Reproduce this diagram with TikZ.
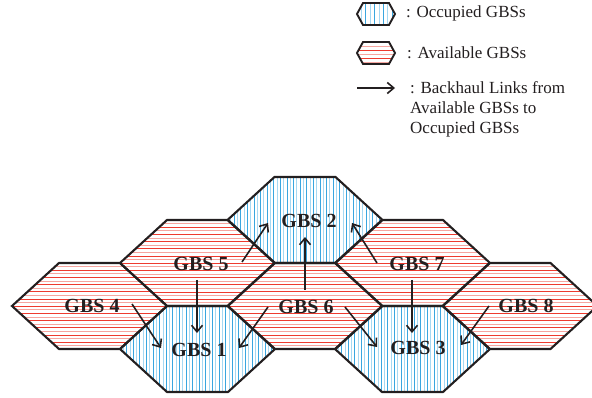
\documentclass[tikz,border=0pt]{standalone}
\usepackage{fontspec}
\setmainfont{Liberation Serif}
\usepackage{tikz}
\usetikzlibrary{calc,arrows.meta}
\definecolor{edge}{HTML}{231F20}
\definecolor{blueD}{HTML}{3AA6DF}
\definecolor{blueL}{HTML}{A6D8F2}
\definecolor{redD}{HTML}{EE3B2F}
\definecolor{redL}{HTML}{F6A6A0}
\tikzset{
  cell/.style={draw=edge, line width=2.1pt, line join=miter},
  occD/.style={draw=blueD, line width=0.8pt},
  occL/.style={draw=blueL, line width=0.8pt},
  avaD/.style={draw=redD, line width=0.8pt},
  avaL/.style={draw=redL, line width=0.8pt},
  link/.style={draw=edge, line width=1.6pt, -{Straight Barb[length=6.5pt,width=11pt,line width=1.6pt]}},
  gbs/.style={text=edge, font=\fontsize{20}{20}\selectfont\bfseries, inner sep=1pt},
  key/.style={text=edge, font=\fontsize{17}{20}\selectfont, align=left, inner sep=0pt},
}
% hexagon: centre, half width, half top edge, half height
\newcommand\hexpath[5]{(#1-#3,#2) -- (#1-#4,#2-#5) -- (#1+#4,#2-#5) -- (#1+#3,#2) -- (#1+#4,#2+#5) -- (#1-#4,#2+#5) -- cycle}
% vertical hatching, last argument is the gap
\newcommand\occupied[6]{%
  \begin{scope}
    \clip \hexpath{#1}{#2}{#3}{#4}{#5};
    \foreach \i in {0,...,60}{
      \pgfmathsetmacro\xx{#1-#3+\i*#6}
      \ifodd\i \draw[occL] (\xx,#2-#5) -- (\xx,#2+#5); \else \draw[occD] (\xx,#2-#5) -- (\xx,#2+#5); \fi
    }
  \end{scope}}
% horizontal hatching
\newcommand\available[6]{%
  \begin{scope}
    \clip \hexpath{#1}{#2}{#3}{#4}{#5};
    \foreach \i in {0,...,40}{
      \pgfmathsetmacro\yy{#2-#5+\i*#6}
      \ifodd\i \draw[avaL] (#1-#3,\yy) -- (#1+#3,\yy); \else \draw[avaD] (#1-#3,\yy) -- (#1+#3,\yy); \fi
    }
  \end{scope}}
\begin{document}
\begin{tikzpicture}[x=1pt,y=-1pt]
  \useasboundingbox (0,0) rectangle (592,398);

  % cells
  \foreach \cx/\cy in {197.5/349, 305/220, 412.5/349}
    {\occupied{\cx}{\cy}{77.5}{30.5}{43}{3.3}}
  \foreach \cx/\cy in {89.5/306, 197.5/263, 305/306, 412.5/263, 520/306}
    {\available{\cx}{\cy}{77.5}{30.5}{43}{3.6}}
  \foreach \cx/\cy in {197.5/349, 305/220, 412.5/349, 89.5/306, 197.5/263, 305/306, 412.5/263, 520/306}
    {\draw[cell] \hexpath{\cx}{\cy}{77.5}{30.5}{43};}

  \node[gbs] (l1) at (199,350) {GBS 1};
  \node[gbs] (l2) at (309,221) {GBS 2};
  \node[gbs] (l3) at (418,348) {GBS 3};
  \node[gbs] (l4) at (92,306) {GBS 4};
  \node[gbs] (l5) at (201,264) {GBS 5};
  \node[gbs] (l6) at (306,307) {GBS 6};
  \node[gbs] (l7) at (417,264) {GBS 7};
  \node[gbs] (l8) at (526,306) {GBS 8};

  % backhaul links
  \coordinate (s41) at (132,304);  \coordinate (e41) at (161,348);
  \coordinate (s51) at (197,280);  \coordinate (e51) at (197,333);
  \coordinate (s61) at (268,307);  \coordinate (e61) at (239,348);
  \coordinate (s52) at (242,262);  \coordinate (e52) at (268,223);
  \coordinate (s62) at (305,290);  \coordinate (e62) at (305,237);
  \coordinate (s72) at (377,263);  \coordinate (e72) at (352,223);
  \coordinate (s63) at (345,307);  \coordinate (e63) at (377,347);
  \coordinate (s73) at (412,280);  \coordinate (e73) at (412,333);
  \coordinate (s83) at (489,306);  \coordinate (e83) at (461,345);
  \foreach \a/\b in {41,51,61,52,62,72,63,73,83}
    \draw[link] (s\a) -- (e\b);

  % key
  \occupied{376}{14}{19}{13}{11}{4.4}
  \available{376}{53}{19}{13}{11}{4}
  \draw[cell, line width=1.9pt] \hexpath{376}{14}{19}{13}{11};
  \draw[cell, line width=1.9pt] \hexpath{376}{53}{19}{13}{11};
  \coordinate (ka) at (357,88);
  \coordinate (kb) at (395,88);
  \draw[link] (ka) -- (kb);
  \node[key, anchor=west] (kocc) at (406,13) {: Occupied GBSs};
  \node[key, anchor=west] (kava) at (407,53) {: Available GBSs};
  \node[key, anchor=north west] (klink) at (410,81) {: Backhaul Links from\\Available GBSs to\\Occupied GBSs};
\end{tikzpicture}
\end{document}
